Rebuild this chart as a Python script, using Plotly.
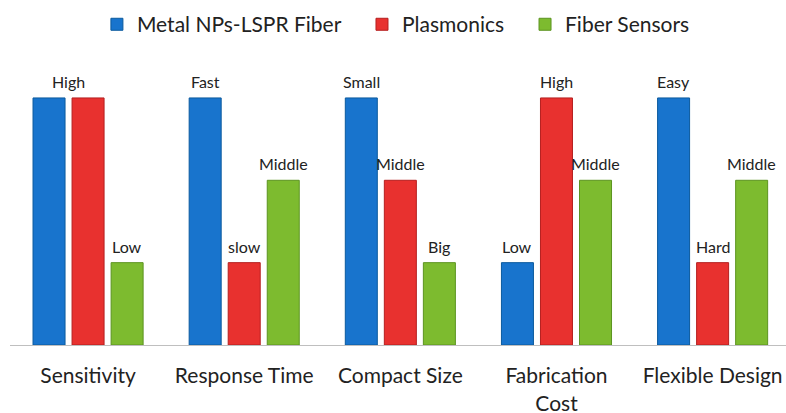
import plotly.graph_objects as go

categories = ["Sensitivity", "Response Time", "Compact Size", "Fabrication<br>Cost", "Flexible Design"]
series_names = ["Metal NPs-LSPR Fiber", "Plasmonics", "Fiber Sensors"]
metal_vals = [3, 3, 3, 1, 3]
plasm_vals = [3, 1, 2, 3, 1]
fiber_vals = [1, 2, 1, 2, 2]
metal_text = ["", "Fast", "Small", "Low", "Easy"]
plasm_text = ["", "slow", "Middle", "High", "Hard"]
fiber_text = ["Low", "Middle", "Big", "Middle", "Middle"]
shared_label = "High"  # shared label over the two Sensitivity bars

colors = ["#1874cd", "#e8312f", "#7dbb2f"]
edges = ["#0b5a9e", "#b51f1f", "#5c9420"]
FONT = "Lato, Carlito, Calibri, sans-serif"
legend_ids = ["legend", "legend2", "legend3"]
legend_x = [0.112, 0.4536, 0.6637]
slot_px = 39

fig = go.Figure()
all_vals = [metal_vals, plasm_vals, fiber_vals]
all_text = [metal_text, plasm_text, fiber_text]
for i, (name, vals, txt, c, e, lg) in enumerate(zip(series_names, all_vals, all_text,
                                                     colors, edges, legend_ids)):
    fig.add_trace(go.Bar(
        x=categories, y=vals, name=name, legend=lg, showlegend=True,
        marker=dict(color=c, line=dict(color=e, width=1)),
    ))
    for cat, v, t in zip(categories, vals, txt):
        if t:
            fig.add_annotation(x=cat, y=v, text=t, showarrow=False, xref="x", yref="y",
                               yanchor="bottom", xshift=(i - 1) * slot_px, yshift=5,
                               font=dict(size=16, color="#222222", family=FONT))

fig.add_annotation(x=categories[0], y=metal_vals[0], text=shared_label, showarrow=False,
                   xref="x", yref="y", yanchor="bottom", xshift=-slot_px / 2, yshift=5,
                   font=dict(size=16, color="#222222", family=FONT))

legend_common = dict(orientation="h", xanchor="left", y=0.99, yanchor="top",
                     yref="container", font=dict(size=21, family=FONT, color="#222222"),
                     itemwidth=30, bgcolor="rgba(0,0,0,0)")

fig.update_layout(
    width=786, height=413, showlegend=True,
    margin=dict(l=10, r=0, t=65, b=68, autoexpand=False),
    paper_bgcolor="white", plot_bgcolor="white",
    barmode="group", bargap=0.25, bargroupgap=0.18,
    font=dict(family=FONT, color="#222222"),
    legend=dict(x=legend_x[0], **legend_common),
    legend2=dict(x=legend_x[1], **legend_common),
    legend3=dict(x=legend_x[2], **legend_common),
    xaxis=dict(range=[-0.5, 4.47], showline=True, linecolor="#bfbfbf", linewidth=1,
               ticks="", tickfont=dict(size=21, family=FONT, color="#222222"),
               showgrid=False, automargin=False, ticklabelstandoff=12),
    yaxis=dict(range=[0, 3.4], visible=False, showgrid=False, zeroline=False,
               automargin=False),
)

fig.write_html("out.html", config={"displayModeBar": False},
               post_script="document.body.style.margin='0';")
